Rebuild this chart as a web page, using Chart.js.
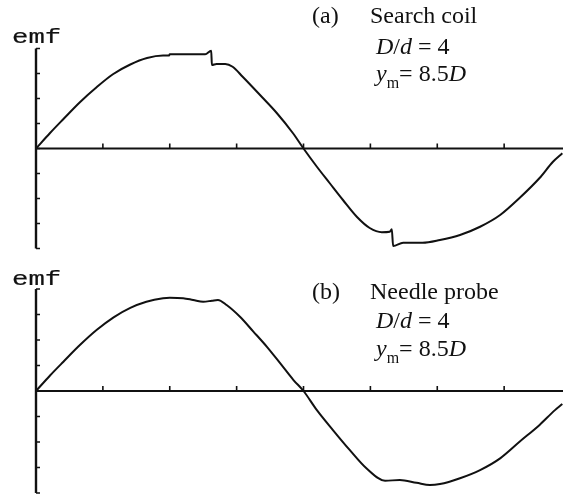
<!DOCTYPE html>
<html>
<head>
    <title>emf traces: search coil and needle probe</title>
    <style>
        body, html {
            margin: 0;
            width: 563px;
            height: 497px;
            background-color: #fff;
            overflow: hidden;
        }
        .panel {
            position: absolute;
            left: 0;
            width: 563px;
        }
        #top { top: 0; height: 250px; }
        #bottom { top: 250px; height: 247px; }
    </style>
</head>
<body>
    <div class="panel" id="top"><canvas id="coilChart"></canvas></div>
    <div class="panel" id="bottom"><canvas id="probeChart"></canvas></div>
    <script src="https://cdn.jsdelivr.net/npm/chart.js"></script>
    <script>
        // time axis (tick units) and emf in y-tick units
        const xTicks = [1, 2, 3, 4, 5, 6, 7];
        const yTicks = [-4, -3, -2, -1, 0, 1, 2, 3, 4];

        const coilX = [0, 0.21, 0.40, 0.66, 0.91, 1.15, 1.41, 1.66, 1.90, 1.99, 2.00, 2.53, 2.62, 2.63, 2.70, 2.83, 2.94, 3.09, 3.35, 3.60,
                       3.84, 4.00, 4.20, 4.39, 4.59, 4.80, 4.99, 5.17, 5.29, 5.32, 5.34, 5.49, 5.78, 6.04, 6.34, 6.64, 6.94, 7.23, 7.53, 7.73, 7.87];
        const coilEmf = [0, 0.62, 1.15, 1.86, 2.46, 2.97, 3.36, 3.62, 3.72, 3.72, 3.77, 3.77, 3.91, 3.34, 3.38, 3.38, 3.27, 2.87, 2.14, 1.42,
                         0.62, 0, -0.73, -1.38, -2.06, -2.74, -3.18, -3.35, -3.33, -3.23, -3.90, -3.77, -3.77, -3.66, -3.46, -3.13, -2.66, -1.98, -1.18, -0.53, -0.19];

        const probeX = [0, 0.21, 0.41, 0.66, 0.91, 1.16, 1.41, 1.65, 1.90, 2.00, 2.20, 2.35, 2.50, 2.63, 2.72, 2.85, 3.05, 3.25, 3.45, 3.65,
                        3.85, 4.00, 4.20, 4.44, 4.69, 4.94, 5.22, 5.44, 5.69, 5.89, 6.04, 6.34, 6.64, 6.94, 7.23, 7.53, 7.76, 7.87];
        const probeEmf = [0, 0.61, 1.15, 1.81, 2.40, 2.89, 3.26, 3.50, 3.64, 3.66, 3.64, 3.57, 3.50, 3.54, 3.57, 3.37, 2.91, 2.33, 1.74, 1.09,
                          0.43, 0, -0.75, -1.53, -2.31, -3.03, -3.52, -3.49, -3.60, -3.69, -3.65, -3.42, -3.10, -2.64, -1.99, -1.33, -0.75, -0.51];

        const INK = '#111';
        const SERIF = '"Liberation Serif", "Times New Roman", serif';

        // axes with inward ticks, the "emf" label and the caption block
        const framePlugin = {
            id: 'frame',
            afterDraw(chart, args, opts) {
                const ctx = chart.ctx;
                const xs = chart.scales.x;
                const ys = chart.scales.y;
                const x0 = xs.getPixelForValue(0);
                const y0 = ys.getPixelForValue(0);
                const yTop = ys.getPixelForValue(yTicks[yTicks.length - 1]);
                const yBot = ys.getPixelForValue(yTicks[0]);

                ctx.save();
                ctx.strokeStyle = INK;
                ctx.lineCap = 'butt';

                // vertical emf axis with bracket ends
                ctx.lineWidth = 2.4;
                ctx.beginPath();
                ctx.moveTo(x0, yTop);
                ctx.lineTo(x0, yBot);
                ctx.stroke();
                ctx.lineWidth = 1.6;
                ctx.beginPath();
                yTicks.forEach(v => {
                    const py = ys.getPixelForValue(v);
                    ctx.moveTo(x0, py);
                    ctx.lineTo(x0 + 4, py);
                });
                ctx.stroke();

                // zero line with upward ticks
                ctx.lineWidth = 1.8;
                ctx.beginPath();
                ctx.moveTo(x0, y0);
                ctx.lineTo(xs.right, y0);
                ctx.stroke();
                ctx.lineWidth = 1.6;
                ctx.beginPath();
                xTicks.forEach(v => {
                    const px = xs.getPixelForValue(v);
                    ctx.moveTo(px, y0);
                    ctx.lineTo(px, y0 - 5);
                });
                ctx.stroke();

                // "emf" in a typewriter face
                ctx.fillStyle = INK;
                ctx.textBaseline = 'alphabetic';
                ctx.save();
                ctx.translate(12, opts.emfY);
                ctx.scale(1.3, 1);
                ctx.font = '21px "Liberation Mono", "Courier New", monospace';
                ctx.lineWidth = 0.2;
                ctx.fillText('emf', 0, 0);
                ctx.strokeText('emf', 0, 0);
                ctx.restore();

                // caption
                const put = (parts, x, y) => {
                    parts.forEach(p => {
                        ctx.font = (p.i ? 'italic ' : '') + (p.s || 24) + 'px ' + SERIF;
                        ctx.fillText(p.t, x, y + (p.dy || 0));
                        x += ctx.measureText(p.t).width;
                    });
                };
                put([{ t: opts.tag }], 312, opts.lines[0]);
                put([{ t: opts.title }], 370, opts.lines[0]);
                put([{ t: 'D', i: true }, { t: '/' }, { t: 'd', i: true }, { t: ' = 4' }], 376, opts.lines[1]);
                put([{ t: 'y', i: true }, { t: 'm', s: 16, dy: 7 }, { t: '= 8.5' }, { t: 'D', i: true }], 376, opts.lines[2]);
                ctx.restore();
            }
        };

        function makeChart(id, xs, ys, padding, frame) {
            const points = xs.map((x, i) => ({ x: x, y: ys[i] }));
            return new Chart(document.getElementById(id).getContext('2d'), {
                type: 'scatter',
                data: {
                    datasets: [{
                        data: points,
                        showLine: true,
                        borderColor: INK,
                        borderWidth: 2,
                        pointRadius: 0,
                        cubicInterpolationMode: 'monotone',
                        clip: false
                    }]
                },
                options: {
                    responsive: true,
                    maintainAspectRatio: false,
                    animation: false,
                    layout: { padding: padding },
                    scales: {
                        x: { type: 'linear', min: 0, max: 7.88, display: false },
                        y: { min: -4, max: 4, display: false }
                    },
                    plugins: {
                        legend: { display: false },
                        tooltip: { enabled: false },
                        frame: frame
                    }
                },
                plugins: [framePlugin]
            });
        }

        makeChart('coilChart', coilX, coilEmf, { left: 36, right: 0, top: 48.5, bottom: 1.5 },
            { emfY: 43, tag: '(a)', title: 'Search coil', lines: [23, 53.5, 80.5] });
        makeChart('probeChart', probeX, probeEmf, { left: 36, right: 0, top: 39, bottom: 4 },
            { emfY: 35, tag: '(b)', title: 'Needle probe', lines: [49.3, 77.5, 106] });
    </script>
</body>
</html>
